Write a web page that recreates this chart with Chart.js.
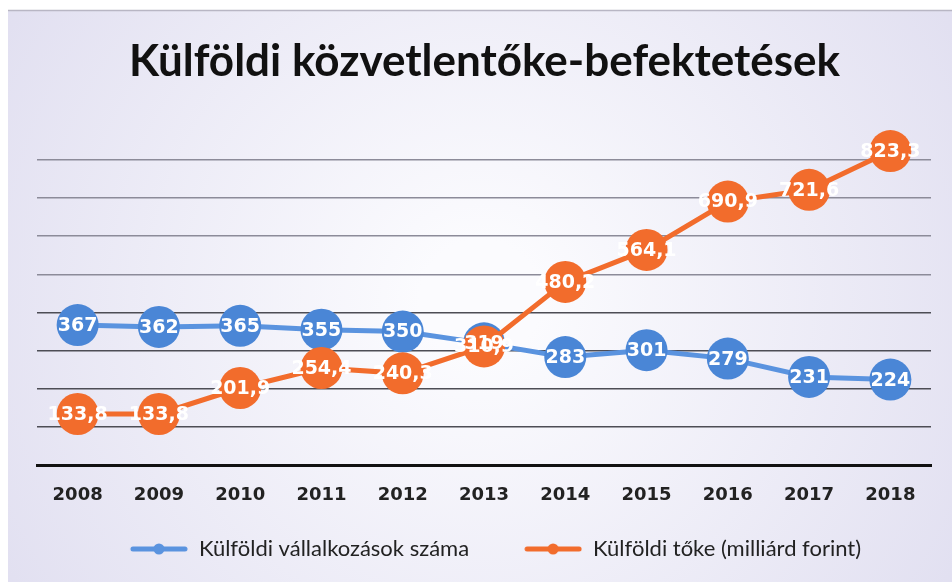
<!DOCTYPE html>
<html>
<head>
<meta charset="utf-8">
<script src="https://cdn.jsdelivr.net/npm/chart.js@4/dist/chart.umd.min.js"></script>
<style>
  html, body { margin: 0; padding: 0; background: #fff; }
  #wrap { width: 952px; height: 582px; }
</style>
</head>
<body>
<div id="wrap"><canvas id="chartFdi"></canvas></div>
<script>
// adatok
const evek = ['2008', '2009', '2010', '2011', '2012', '2013', '2014', '2015', '2016', '2017', '2018'];
const vallalkozasok = [367, 362, 365, 355, 350, 319, 283, 301, 279, 231, 224];
const toke = [133.8, 133.8, 201.9, 254.4, 240.3, 310.9, 480.2, 564.1, 690.9, 721.6, 823.3];

const kek = '#4a86d6';
const kekVonal = '#5a93df';
const narancs = '#f26c2c';

// címke formátum: tizedesvessző
const fmt = (v) => Number.isInteger(v) ? String(v) : v.toFixed(1).replace('.', ',');

// kis kép a jelmagyarázathoz (üres hely balra + vonal + pötty)
function legendJel(szin) {
    const c = document.createElement('canvas');
    c.width = 80; c.height = 14;
    const g = c.getContext('2d');
    g.strokeStyle = szin;
    g.lineWidth = 5;
    g.lineCap = 'round';
    g.beginPath(); g.moveTo(25, 7); g.lineTo(77, 7); g.stroke();
    g.fillStyle = szin;
    g.beginPath(); g.arc(51, 7, 5.5, 0, Math.PI * 2); g.fill();
    return c;
}

const hatter = {
    id: 'hatter',
    beforeDraw(chart) {
        const ctx = chart.ctx;
        ctx.save();
        ctx.fillStyle = '#ffffff';
        ctx.fillRect(0, 0, chart.width, chart.height);
        const gr = ctx.createRadialGradient(480, 300, 60, 480, 300, 620);
        gr.addColorStop(0, '#fbfbfe');
        gr.addColorStop(1, '#dedcef');
        ctx.fillStyle = gr;
        ctx.fillRect(8, 10, chart.width - 8, chart.height - 10);
        ctx.strokeStyle = '#b8b6c4';
        ctx.lineWidth = 1.5;
        ctx.beginPath(); ctx.moveTo(8, 10.5); ctx.lineTo(chart.width, 10.5); ctx.stroke();
        ctx.restore();
    }
};

const cimkek = {
    id: 'cimkek',
    afterDatasetsDraw(chart) {
        const ctx = chart.ctx;
        ctx.save();
        ctx.font = 'bold 19px "DejaVu Sans"';
        ctx.fillStyle = '#ffffff';
        ctx.textAlign = 'center';
        ctx.textBaseline = 'middle';
        chart.data.datasets.forEach((ds, i) => {
            const meta = chart.getDatasetMeta(i);
            meta.data.forEach((pt, j) => {
                ctx.fillText(fmt(ds.data[j]), pt.x, pt.y + 1);
            });
        });
        ctx.restore();
    }
};

const ctx = document.getElementById('chartFdi').getContext('2d');
const myChart = new Chart(ctx, {
    type: 'line',
    data: {
        labels: evek,
        datasets: [{
            label: 'Külföldi vállalkozások száma',
            data: vallalkozasok,
            borderColor: kekVonal,
            backgroundColor: kek,
            borderWidth: 5,
            pointRadius: 21,
            pointHoverRadius: 21,
            pointBorderWidth: 0,
            order: 1
        }, {
            label: 'Külföldi tőke (milliárd forint)',
            data: toke,
            borderColor: narancs,
            backgroundColor: narancs,
            borderWidth: 5,
            pointRadius: 21,
            pointHoverRadius: 21,
            pointBorderWidth: 0,
            order: 0
        }]
    },
    options: {
        responsive: true,
        maintainAspectRatio: false,
        animation: false,
        events: [],
        layout: { padding: { left: 37, right: 20, top: 0, bottom: 12 } },
        plugins: {
            title: {
                display: true,
                text: 'Külföldi közvetlentőke-befektetések',
                color: '#111',
                font: { family: 'Lato', size: 44, weight: 'bold' },
                padding: { top: 35, bottom: 34 }
            },
            legend: {
                position: 'bottom',
                labels: {
                    usePointStyle: true,
                    pointStyleWidth: 80,
                    color: '#222',
                    font: { family: 'Lato', size: 22 },
                    padding: 33,
                    generateLabels(chart) {
                        return chart.data.datasets.map((ds, i) => ({
                            text: ds.label,
                            pointStyle: legendJel(i === 0 ? kekVonal : narancs),
                            fillStyle: ds.backgroundColor,
                            strokeStyle: ds.borderColor,
                            lineWidth: 0,
                            fontColor: '#222',
                            datasetIndex: i
                        }));
                    }
                }
            },
            tooltip: { enabled: false }
        },
        scales: {
            x: {
                offset: true,
                grid: { display: false },
                border: { color: '#111', width: 3 },
                ticks: {
                    color: '#222',
                    padding: 12,
                    font: { family: '"DejaVu Sans"', size: 18, weight: 'bold' }
                },
                afterFit(scale) { scale.height = 40; }
            },
            y: {
                min: 0,
                max: 900,
                ticks: { display: false, stepSize: 100 },
                border: { display: false },
                grid: {
                    drawTicks: false,
                    lineWidth: 1.5,
                    color: (c) => {
                        const v = c.tick.value;
                        if (v === 0 || v === 900) return 'rgba(0,0,0,0)';
                        return v >= 500 ? '#8c8b99' : '#4d4d55';
                    }
                }
            }
        },
        elements: { line: { tension: 0 } }
    },
    plugins: [hatter, cimkek]
});
</script>
</body>
</html>
